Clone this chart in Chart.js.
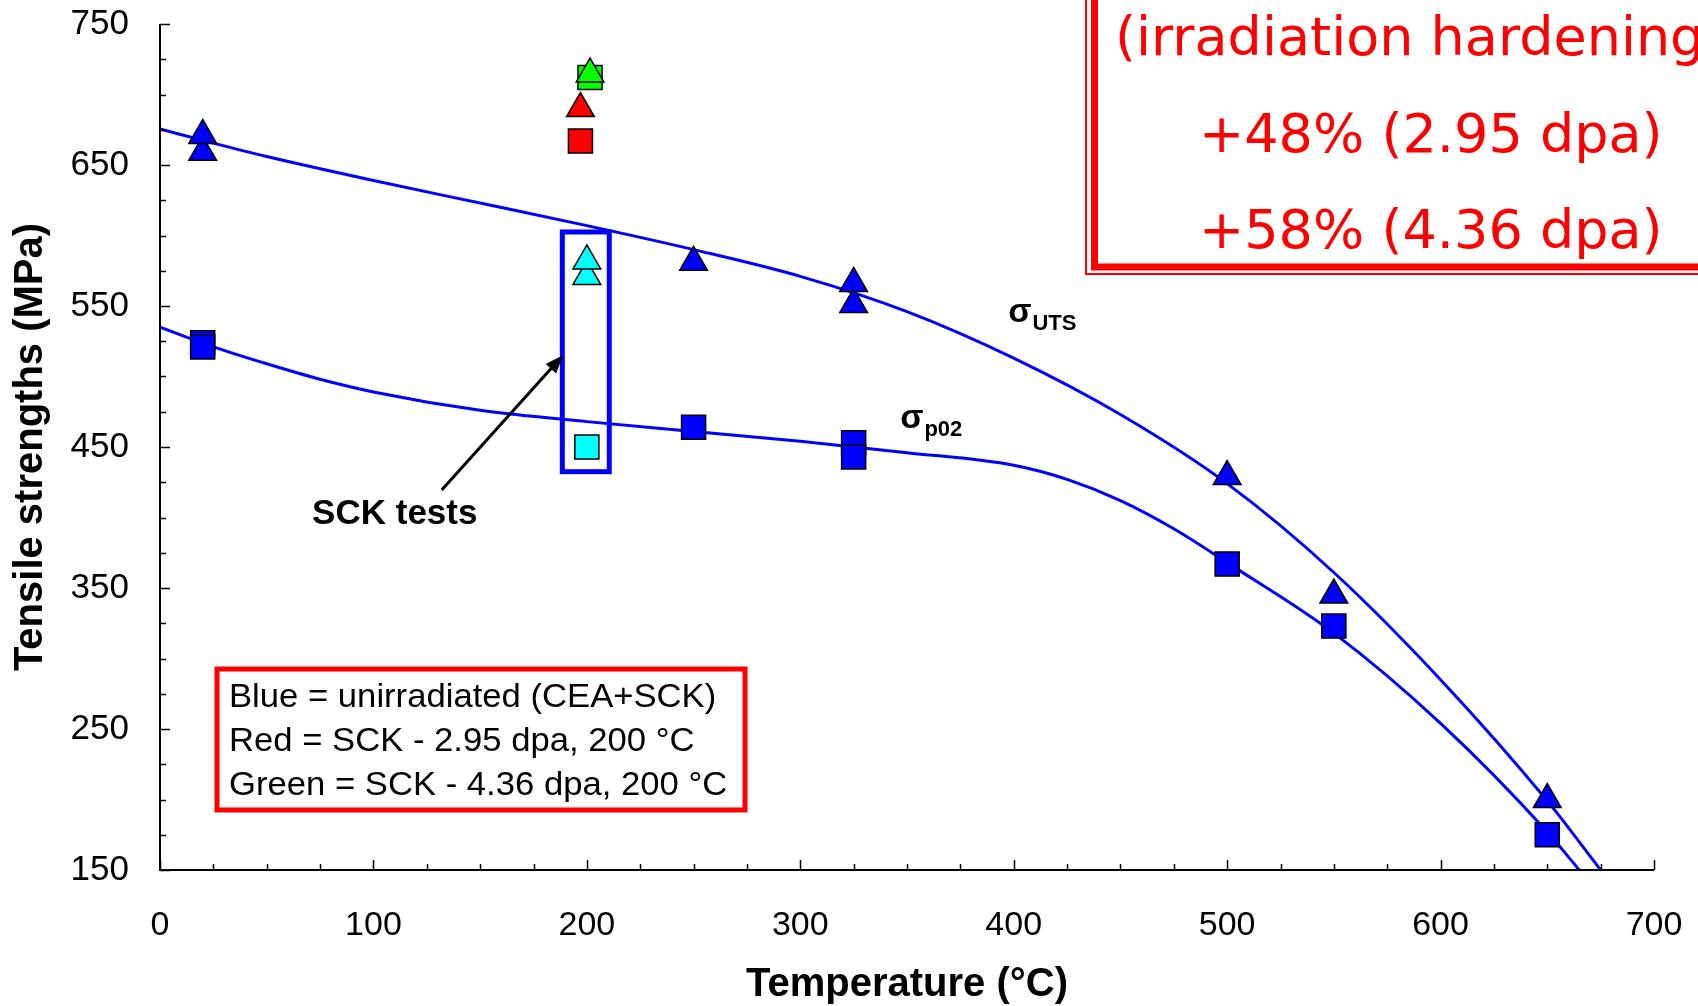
<!DOCTYPE html>
<html>
<head>
<meta charset="utf-8">
<script src="https://cdn.jsdelivr.net/npm/chart.js@4.4.1/dist/chart.umd.min.js"></script>
<style>
  html, body { margin: 0; padding: 0; background: #fff; }
  #wrap { width: 1698px; height: 1006px; position: relative; }
</style>
</head>
<body>
<div id="wrap"><canvas id="tensileChart"></canvas></div>
<script>
// unirradiated data (CEA + SCK), blue markers
const utsTemps = [20, 20, 250, 325, 325, 500, 550, 650];
const utsValues = [659, 671, 581, 551, 566, 429, 345, 200];
const p02Temps = [20, 20, 250, 325, 325, 500, 550, 650];
const p02Values = [524, 521, 464, 453, 443, 367, 323, 175];

// unirradiated SCK tests at 200 C (cyan)
const sckTemps = [200, 200];
const sckUts = [571, 582];
const sckP02Temps = [200];
const sckP02 = [450];

// irradiated SCK (red = 2.95 dpa, green = 4.36 dpa)
const redTemps = [197];
const redUts = [690];
const redP02 = [667];
const greenTemps = [201.5];
const greenUts = [714.5];
const greenP02 = [712];

// fitted curves
const fitUtsTemps = [0, 25, 50, 100, 150, 200, 250, 300, 350, 400, 450, 500, 550, 600, 650, 675];
const fitUts = [675.5, 665.5, 656, 639, 623, 607, 590, 571, 546, 513, 473, 424, 361, 285, 199, 150];
const fitP02Temps = [0, 25, 50, 75, 100, 150, 200, 250, 300, 350, 400, 425, 450, 475, 500, 550, 600, 650, 665];
const fitP02 = [535, 521, 509, 498, 489, 476, 468, 461, 454, 446, 437, 427, 412, 392, 368, 318, 254, 177, 150];

// axes
const xTickLabels = [0, 100, 200, 300, 400, 500, 600, 700];
const yTickLabels = [150, 250, 350, 450, 550, 650, 750];
const minorStep = 25;

const legendLines = [
    'Blue = unirradiated (CEA+SCK)',
    'Red = SCK - 2.95 dpa, 200 \u00B0C',
    'Green = SCK - 4.36 dpa, 200 \u00B0C',
];
const hardeningLines = ['(irradiation hardening', '+48% (2.95 dpa)', '+58% (4.36 dpa)'];

const BLUE = '#0000ff';
const RED = '#ff0000';
const ARIAL = '"Liberation Sans", Arial, sans-serif';

const pts = (xs, ys) => xs.map((t, i) => ({ x: t, y: ys[i] }));

function markers(label, xs, ys, color, style) {
    return {
        label: label,
        data: pts(xs, ys),
        pointStyle: style,
        pointRadius: style === 'rect' ? 17 : 16,
        pointHoverRadius: style === 'rect' ? 17 : 16,
        backgroundColor: color,
        borderColor: '#000',
        borderWidth: 1.5,
        order: 1,
    };
}

function fitLine(label, xs, ys) {
    return {
        label: label,
        data: pts(xs, ys),
        showLine: true,
        borderColor: BLUE,
        borderWidth: 3,
        pointRadius: 0,
        cubicInterpolationMode: 'monotone',
        order: 2,
    };
}

const overlayPlugin = {
    id: 'overlay',
    afterDraw(chart) {
        const { ctx, chartArea: a, scales: { x, y } } = chart;
        ctx.save();

        // axis lines and inward ticks
        ctx.strokeStyle = '#000';
        ctx.lineWidth = 2;
        ctx.beginPath();
        ctx.moveTo(a.left, a.top);
        ctx.lineTo(a.left, a.bottom);
        ctx.lineTo(a.right, a.bottom);
        ctx.stroke();
        ctx.lineWidth = 1.5;
        ctx.beginPath();
        for (let v = x.min; v <= x.max; v += minorStep) {
            const px = Math.round(x.getPixelForValue(v)) + 0.5;
            const len = xTickLabels.includes(v) ? 10 : 6;
            ctx.moveTo(px, a.bottom);
            ctx.lineTo(px, a.bottom - len);
        }
        for (let v = y.min; v <= y.max; v += minorStep) {
            const py = Math.round(y.getPixelForValue(v)) + 0.5;
            const len = yTickLabels.includes(v) ? 10 : 6;
            ctx.moveTo(a.left, py);
            ctx.lineTo(a.left + len, py);
        }
        ctx.stroke();

        // axis titles
        ctx.fillStyle = '#000';
        ctx.font = 'bold 40px ' + ARIAL;
        ctx.textAlign = 'center';
        ctx.textBaseline = 'middle';
        ctx.fillText('Temperature (\u00B0C)', (a.left + a.right) / 2, 985);
        ctx.save();
        ctx.translate(31, (a.top + a.bottom) / 2);
        ctx.rotate(-Math.PI / 2);
        ctx.fillText('Tensile strengths (MPa)', 0, 0);
        ctx.restore();

        // frame round the SCK tests
        const bx0 = x.getPixelForValue(188.5), bx1 = x.getPixelForValue(210.5);
        const by0 = y.getPixelForValue(602.5), by1 = y.getPixelForValue(432.5);
        ctx.strokeStyle = BLUE;
        ctx.lineWidth = 5;
        ctx.strokeRect(bx0, by0, bx1 - bx0, by1 - by0);

        // arrow to the frame
        const ax0 = x.getPixelForValue(132), ay0 = y.getPixelForValue(419.5);
        const ax1 = x.getPixelForValue(188.8), ay1 = y.getPixelForValue(515);
        const ang = Math.atan2(ay1 - ay0, ax1 - ax0);
        ctx.strokeStyle = '#000';
        ctx.fillStyle = '#000';
        ctx.lineWidth = 3;
        ctx.beginPath();
        ctx.moveTo(ax0, ay0);
        ctx.lineTo(ax1 - 12 * Math.cos(ang), ay1 - 12 * Math.sin(ang));
        ctx.stroke();
        ctx.beginPath();
        ctx.moveTo(ax1, ay1);
        ctx.lineTo(ax1 - 18 * Math.cos(ang) + 7 * Math.sin(ang), ay1 - 18 * Math.sin(ang) - 7 * Math.cos(ang));
        ctx.lineTo(ax1 - 18 * Math.cos(ang) - 7 * Math.sin(ang), ay1 - 18 * Math.sin(ang) + 7 * Math.cos(ang));
        ctx.closePath();
        ctx.fill();

        ctx.font = 'bold 35px ' + ARIAL;
        ctx.textAlign = 'center';
        ctx.textBaseline = 'middle';
        ctx.fillText('SCK tests', x.getPixelForValue(110), y.getPixelForValue(402));

        // curve labels
        ctx.textAlign = 'left';
        ctx.textBaseline = 'alphabetic';
        const sigma = (vx, vy, sub) => {
            const px = x.getPixelForValue(vx), py = y.getPixelForValue(vy);
            ctx.font = 'bold 34px ' + ARIAL;
            ctx.fillText('\u03C3', px, py);
            const w = ctx.measureText('\u03C3').width;
            ctx.font = 'bold 22px ' + ARIAL;
            ctx.fillText(sub, px + w + 1, py + 8);
        };
        sigma(397.4, 538.7, 'UTS');
        sigma(346.8, 463.5, 'p02');

        // colour legend box
        ctx.strokeStyle = RED;
        ctx.lineWidth = 5;
        ctx.strokeRect(217, 669, 528, 141);
        ctx.fillStyle = '#000';
        ctx.font = '33px ' + ARIAL;
        legendLines.forEach((t, i) => {
            ctx.save();
            ctx.translate(229, 707 + i * 44);
            ctx.scale(1.05, 1);
            ctx.fillText(t, 0, 0);
            ctx.restore();
        });

        // hardening box, running off the top right corner
        ctx.strokeStyle = RED;
        ctx.lineWidth = 2;
        ctx.beginPath();
        ctx.moveTo(1086, -5);
        ctx.lineTo(1086, 274);
        ctx.lineTo(1710, 274);
        ctx.stroke();
        ctx.lineWidth = 7;
        ctx.beginPath();
        ctx.moveTo(1094.5, -5);
        ctx.lineTo(1094.5, 267);
        ctx.lineTo(1710, 267);
        ctx.stroke();
        ctx.fillStyle = RED;
        ctx.font = '54px "DejaVu Sans", Verdana, sans-serif';
        ctx.fillText(hardeningLines[0], 1115, 55);
        ctx.fillText(hardeningLines[1], 1199, 152);
        ctx.fillText(hardeningLines[2], 1199, 248);

        ctx.restore();
    },
};

new Chart(document.getElementById('tensileChart'), {
    type: 'scatter',
    data: {
        datasets: [
            markers('Green UTS', greenTemps, greenUts, '#00ff00', 'triangle'),
            markers('Green p02', greenTemps, greenP02, '#00ff00', 'rect'),
            markers('Red UTS', redTemps, redUts, RED, 'triangle'),
            markers('Red p02', redTemps, redP02, RED, 'rect'),
            markers('SCK UTS', sckTemps, sckUts, '#00ffff', 'triangle'),
            markers('SCK p02', sckP02Temps, sckP02, '#00ffff', 'rect'),
            markers('UTS', utsTemps, utsValues, BLUE, 'triangle'),
            markers('p02', p02Temps, p02Values, BLUE, 'rect'),
            fitLine('UTS fit', fitUtsTemps, fitUts),
            fitLine('p02 fit', fitP02Temps, fitP02),
        ],
    },
    options: {
        responsive: true,
        maintainAspectRatio: false,
        animation: false,
        events: [],
        layout: { padding: { top: 24, right: 44, left: 0, bottom: 0 } },
        plugins: {
            legend: { display: false },
            tooltip: { enabled: false },
        },
        scales: {
            x: {
                type: 'linear',
                min: 0,
                max: 700,
                afterFit(scale) {
                    scale.height = 136;
                    scale.paddingLeft = 0;
                    scale.paddingRight = 0;
                },
                afterBuildTicks(scale) { scale.ticks = xTickLabels.map(v => ({ value: v })); },
                grid: { display: false },
                border: { display: false },
                ticks: { color: '#000', padding: 27, font: { family: ARIAL, size: 34 } },
            },
            y: {
                type: 'linear',
                min: 150,
                max: 750,
                afterFit(scale) {
                    scale.width = 160;
                    scale.paddingTop = 0;
                    scale.paddingBottom = 0;
                },
                afterBuildTicks(scale) { scale.ticks = yTickLabels.map(v => ({ value: v })); },
                grid: { display: false },
                border: { display: false },
                ticks: { color: '#000', padding: 23, font: { family: ARIAL, size: 35 } },
            },
        },
    },
    plugins: [overlayPlugin],
});
</script>
</body>
</html>
